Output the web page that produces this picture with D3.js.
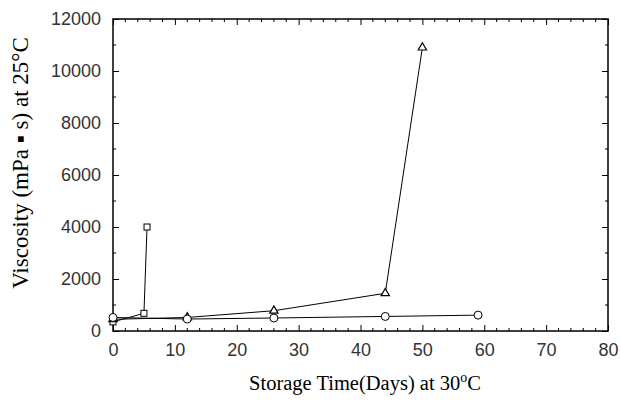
<!DOCTYPE html>
<html>
<head>
<meta charset="utf-8">
<script src="https://cdn.jsdelivr.net/npm/d3@7"></script>
<style>
  body { margin: 0; background: #fff; }
  .tick text { font-family: "Liberation Sans", Arial, sans-serif; font-size: 18px; fill: #333; }
  .title { font-family: "Liberation Serif", "Times New Roman", serif; fill: #000; }
</style>
</head>
<body>
<div id="chart"></div>
<script>
// data: [day, viscosity]
const squareSeries = [[0, 350], [5, 680], [5.5, 4000]];
const triangleSeries = [[0, 450], [12, 520], [26, 780], [44, 1450], [50, 10900]];
const circleSeries = [[0, 520], [12, 460], [26, 500], [44, 560], [59, 610]];
const xTicks = [0, 10, 20, 30, 40, 50, 60, 70, 80];
const yTicks = [0, 2000, 4000, 6000, 8000, 10000, 12000];

const width = 621, height = 400;
const margin = { top: 19, right: 13, bottom: 69, left: 113 };

const svg = d3.select('#chart').append('svg')
    .attr('width', width)
    .attr('height', height);

const x = d3.scaleLinear().domain([0, 80]).range([margin.left, width - margin.right]);
const y = d3.scaleLinear().domain([0, 12000]).range([height - margin.bottom, margin.top]);

const x0 = x(0), x1 = x(80), y0 = y(0), y1 = y(12000);

// minor ticks (inward, all four sides)
const minor = svg.append('g').attr('stroke', '#000').attr('stroke-width', 1);
d3.range(0, 81, 2).filter(d => d % 10 !== 0).forEach(d => {
    minor.append('line').attr('x1', x(d)).attr('x2', x(d)).attr('y1', y0).attr('y2', y0 - 3);
    minor.append('line').attr('x1', x(d)).attr('x2', x(d)).attr('y1', y1).attr('y2', y1 + 3);
});
d3.range(1000, 12000, 2000).forEach(d => {
    minor.append('line').attr('x1', x0).attr('x2', x0 + 3).attr('y1', y(d)).attr('y2', y(d));
    minor.append('line').attr('x1', x1).attr('x2', x1 - 3).attr('y1', y(d)).attr('y2', y(d));
});

// axes
svg.append('g')
    .attr('transform', `translate(0,${y0})`)
    .call(d3.axisBottom(x).tickValues(xTicks).tickSizeInner(-6).tickSizeOuter(0).tickPadding(12))
    .call(g => g.select('.domain').remove());
svg.append('g')
    .attr('transform', `translate(0,${y1})`)
    .call(d3.axisTop(x).tickValues(xTicks).tickSizeInner(-6).tickSizeOuter(0).tickFormat(''))
    .call(g => g.select('.domain').remove());
svg.append('g')
    .attr('transform', `translate(${x0},0)`)
    .call(d3.axisLeft(y).tickValues(yTicks).tickSizeInner(-6).tickSizeOuter(0).tickPadding(12).tickFormat(d3.format('d')))
    .call(g => g.select('.domain').remove());
svg.append('g')
    .attr('transform', `translate(${x1},0)`)
    .call(d3.axisRight(y).tickValues(yTicks).tickSizeInner(-6).tickSizeOuter(0).tickFormat(''))
    .call(g => g.select('.domain').remove());

svg.selectAll('.tick line').attr('stroke', '#000');

// frame
svg.append('rect')
    .attr('x', x0).attr('y', y1)
    .attr('width', x1 - x0).attr('height', y0 - y1)
    .attr('fill', 'none').attr('stroke', '#000').attr('stroke-width', 1.5);

// lines
const line = d3.line().x(d => x(d[0])).y(d => y(d[1]));
[squareSeries, triangleSeries, circleSeries].forEach(s => {
    svg.append('path').datum(s)
        .attr('d', line)
        .attr('fill', 'none')
        .attr('stroke', '#000')
        .attr('stroke-width', 1);
});

// markers
svg.selectAll('.sq').data(squareSeries).enter().append('rect')
    .attr('class', 'sq')
    .attr('x', d => x(d[0]) - 3).attr('y', d => y(d[1]) - 3)
    .attr('width', 6).attr('height', 6)
    .attr('fill', '#fff').attr('stroke', '#000').attr('stroke-width', 1);

svg.selectAll('.tri').data(triangleSeries).enter().append('path')
    .attr('class', 'tri')
    .attr('transform', d => `translate(${x(d[0])},${y(d[1])})`)
    .attr('d', d3.symbol().type(d3.symbolTriangle).size(30))
    .attr('fill', '#fff').attr('stroke', '#000').attr('stroke-width', 1.2);

svg.selectAll('.circ').data(circleSeries).enter().append('circle')
    .attr('class', 'circ')
    .attr('cx', d => x(d[0])).attr('cy', d => y(d[1]))
    .attr('r', 4)
    .attr('fill', '#fff').attr('stroke', '#000').attr('stroke-width', 1);

// titles
svg.append('text')
    .attr('class', 'title')
    .attr('font-size', 20.5)
    .attr('x', 365).attr('y', 390)
    .attr('text-anchor', 'middle')
    .html('Storage Time(Days) at 30<tspan dy="-8" font-size="14">o</tspan><tspan dy="8">C</tspan>');

svg.append('text')
    .attr('class', 'title')
    .attr('font-size', 23)
    .attr('transform', `translate(28,${163}) rotate(-90)`)
    .attr('text-anchor', 'middle')
    .text('Viscosity (mPa \u25AA s) at 25\u00B0C');
</script>
</body>
</html>
